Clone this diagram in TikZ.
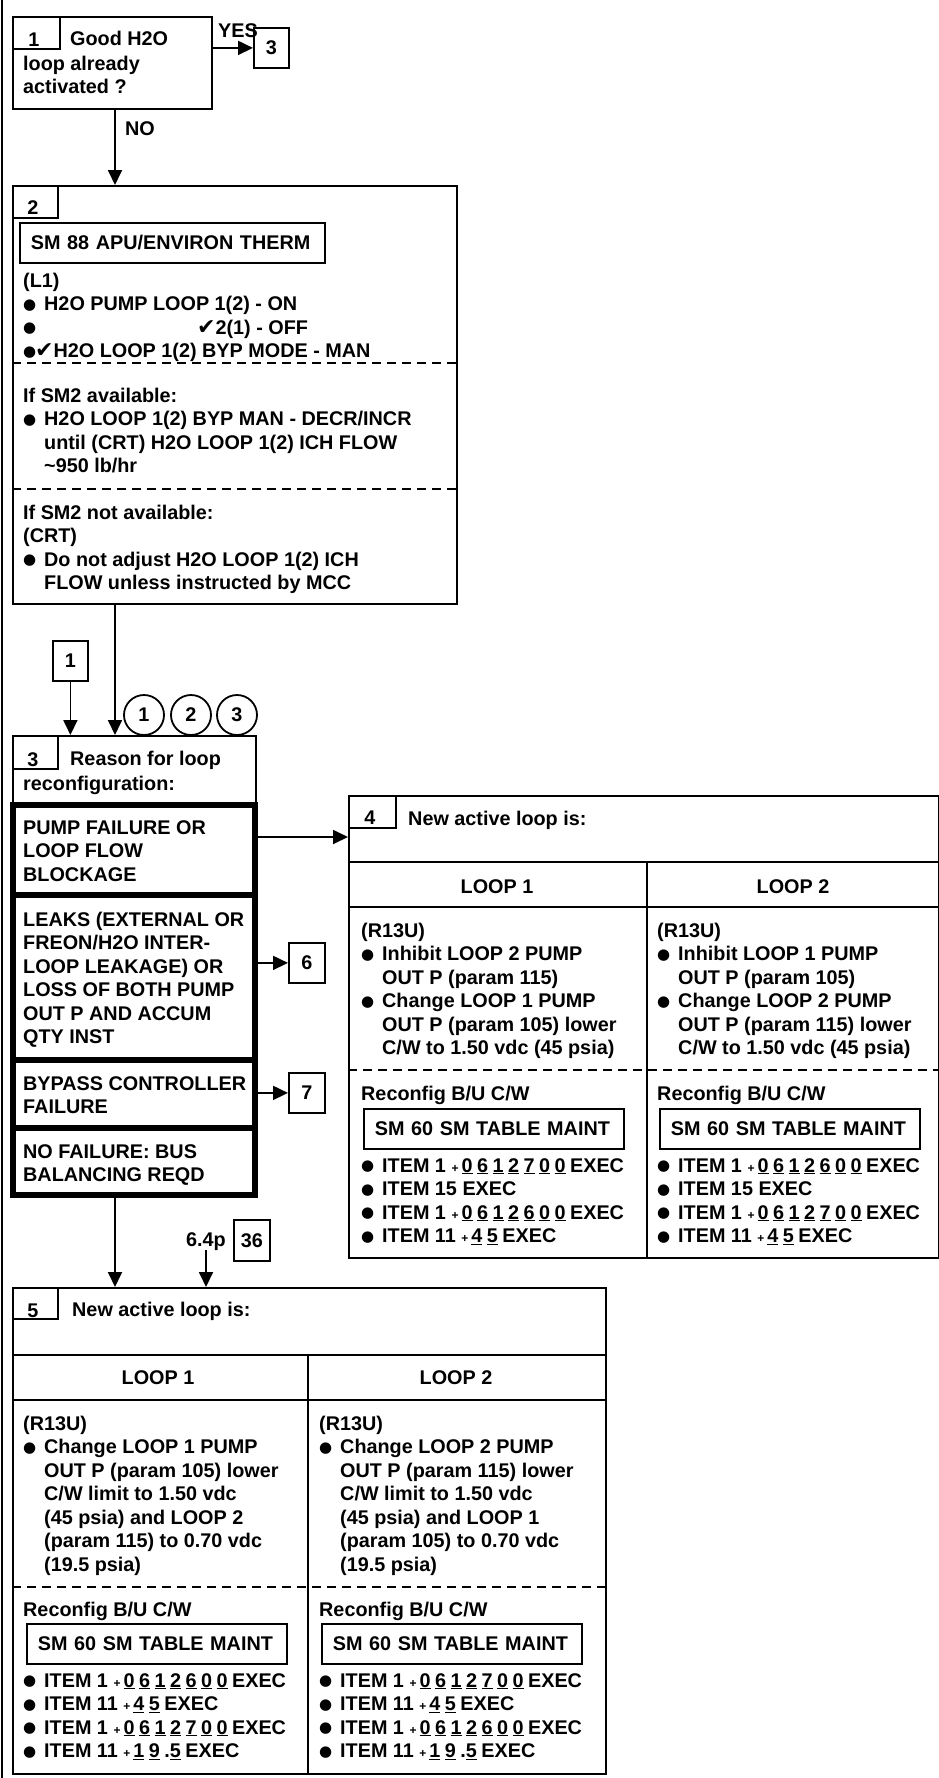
\documentclass[tikz,border=0pt]{standalone}
\usepackage{fontspec}
\setmainfont{Liberation Sans}
\newfontfamily\checkfont{DejaVu Sans}
\usetikzlibrary{arrows.meta}

\newcommand{\bodyfont}{\fontsize{19.8}{23.5}\selectfont\bfseries}
\newcommand{\bdot}{{\checkfont\fontsize{15}{15}\selectfont\raisebox{1.5pt}{●}}}
\newcommand{\bul}{\makebox[21pt][l]{\bdot}}
\newcommand{\ind}{\hspace*{21pt}}
\newcommand{\chk}{{\checkfont\fontsize{22}{22}\selectfont ✔}}
\newcommand{\pls}{{\fontsize{12}{12}\selectfont +}\hspace{3pt}}
\newcommand{\ud}[1]{\underline{#1}\hspace{4.5pt}}

\begin{document}
\begin{tikzpicture}[x=1pt, y=-1pt,
    every node/.style={font=\bodyfont},
    box/.style={draw, line width=1.8pt, inner sep=0pt, anchor=north west},
    smbox/.style={box, minimum height=40pt, inner xsep=11pt, align=left},
    refbox/.style={box, minimum width=36pt, minimum height=40pt},
    reason/.style={draw, line width=6pt, inner sep=0pt, anchor=north west, minimum width=242pt},
    circ/.style={draw, circle, line width=1.8pt, minimum size=40pt, inner sep=0pt},
    txt/.style={anchor=base west, inner sep=0pt, align=left},
    num/.style={anchor=base, inner sep=0pt},
    tline/.style={line width=1.8pt},
    sepline/.style={line width=1.8pt, dash pattern=on 9pt off 6pt},
    arr/.style={line width=1.8pt, -{Triangle[length=15pt, width=14pt]}}]
    \useasboundingbox (0,0) rectangle (939,1778);
    \draw[line width=2.5pt] (2,0) -- (2,1778);
    \coordinate (spine) at (115,0);

    \node[box, minimum width=199pt, minimum height=92pt] (q1) at (12,16) {};
    \node[box, minimum width=47pt, minimum height=32pt] (t1) at (12,16) {};
    \node[num] (t1n) at (34,46) {1};
    \node[txt] (q1a) at (70,45) {Good H2O};
    \node[txt] (q1b) at (23,93.5) {loop already\\activated ?};
    \node[refbox, minimum width=35pt] (r3) at (253,27) {3};
    \node[txt] (yes) at (218,37) {YES};
    \node[txt] (no) at (125,135) {NO};

    \node[box, minimum width=444pt, minimum height=418pt] (q2) at (12,185) {};
    \node[box, minimum width=45pt, minimum height=32pt] (t2) at (12,185) {};
    \node[num] (t2n) at (33,214) {2};
    \node[smbox, text width=283pt] (sm88) at (19,222) {SM 88 APU/ENVIRON THERM};
    \node[txt] (q2a) at (23,357.5) {(L1)\\\bul H2O PUMP LOOP 1(2) - ON\\\bul\hspace*{153pt}\chk 2(1) - OFF\\\makebox[12pt][l]{\bdot}\chk H2O LOOP 1(2) BYP MODE - MAN};
    \draw[sepline] (12,363) -- (456,363);
    \node[txt] (q2b) at (23,472.5) {If SM2 available:\\\bul H2O LOOP 1(2) BYP MAN - DECR/INCR\\\ind until (CRT) H2O LOOP 1(2) ICH FLOW\\\ind \textasciitilde950 lb/hr};
    \draw[sepline] (12,489) -- (456,489);
    \node[txt] (q2c) at (23,589.5) {If SM2 not available:\\(CRT)\\\bul Do not adjust H2O LOOP 1(2) ICH\\\ind FLOW unless instructed by MCC};

    \node[refbox, minimum width=35pt] (r1) at (52,640) {1};
    \node[circ] (c1) at (144,715) {1};
    \node[circ] (c2) at (191,715) {2};
    \node[circ] (c3) at (237,715) {3};

    \node[box, minimum width=243pt, minimum height=70pt] (q3) at (12,735) {};
    \node[box, minimum width=45pt, minimum height=33pt] (t3) at (12,735) {};
    \node[num] (t3n) at (33,766) {3};
    \node[txt] (q3a) at (70,765) {Reason for loop};
    \node[txt] (q3b) at (23,790) {reconfiguration:};

    \node[reason, minimum height=90pt] (ra) at (10,802) {};
    \node[reason, minimum height=165pt] (rb) at (10,892) {};
    \node[reason, minimum height=68pt] (rc) at (10,1057) {};
    \node[reason, minimum height=67pt] (rd) at (10,1125) {};
    \node[txt] (raa) at (23,881) {PUMP FAILURE OR\\LOOP FLOW\\BLOCKAGE};
    \node[txt] (rba) at (23,1043.5) {LEAKS (EXTERNAL OR\\FREON/H2O INTER-\\LOOP LEAKAGE) OR\\LOSS OF BOTH PUMP\\OUT P AND ACCUM\\QTY INST};
    \node[txt] (rca) at (23,1113.5) {BYPASS CONTROLLER\\FAILURE};
    \node[txt] (rda) at (23,1181.5) {NO FAILURE: BUS\\BALANCING REQD};
    \node[refbox] (r6) at (288,942) {6};
    \node[refbox] (r7) at (288,1072) {7};

    \node[box, minimum width=590pt, minimum height=462pt] (q4) at (348,795) {};
    \node[box, minimum width=47pt, minimum height=32pt] (t4) at (348,795) {};
    \node[num] (t4n) at (370,824) {4};
    \node[txt] (q4a) at (408,825) {New active loop is:};
    \draw[tline] (348,862) -- (938,862);
    \draw[tline] (348,907) -- (938,907);
    \draw[tline] (647,862) -- (647,1257);
    \draw[sepline] (348,1070) -- (938,1070);
    \node[num] (q4b) at (497,893) {LOOP 1};
    \node[num] (q4c) at (793,893) {LOOP 2};
    \node[txt] (q4d) at (361,1054.5) {(R13U)\\\bul Inhibit LOOP 2 PUMP\\\ind OUT P (param 115)\\\bul Change LOOP 1 PUMP\\\ind OUT P (param 105) lower\\\ind C/W to 1.50 vdc (45 psia)};
    \node[txt] (q4e) at (657,1054.5) {(R13U)\\\bul Inhibit LOOP 1 PUMP\\\ind OUT P (param 105)\\\bul Change LOOP 2 PUMP\\\ind OUT P (param 115) lower\\\ind C/W to 1.50 vdc (45 psia)};
    \node[txt] (q4f) at (361,1100) {Reconfig B/U C/W};
    \node[txt] (q4g) at (657,1100) {Reconfig B/U C/W};
    \node[smbox, text width=238pt] (q4h) at (363,1108) {SM 60 SM TABLE MAINT};
    \node[smbox, text width=238pt] (q4i) at (659,1108) {SM 60 SM TABLE MAINT};
    \node[txt] (q4j) at (361,1242.5) {\bul ITEM 1 \pls\ud0\ud6\ud1\ud2\ud7\ud0\ud0EXEC\\\bul ITEM 15 EXEC\\\bul ITEM 1 \pls\ud0\ud6\ud1\ud2\ud6\ud0\ud0EXEC\\\bul ITEM 11 \pls\ud4\ud5EXEC};
    \node[txt] (q4k) at (657,1242.5) {\bul ITEM 1 \pls\ud0\ud6\ud1\ud2\ud6\ud0\ud0EXEC\\\bul ITEM 15 EXEC\\\bul ITEM 1 \pls\ud0\ud6\ud1\ud2\ud7\ud0\ud0EXEC\\\bul ITEM 11 \pls\ud4\ud5EXEC};

    \node[txt] (pg) at (186,1246) {6.4p};
    \node[refbox, minimum height=41pt] (r36) at (233,1219) {36};

    \node[box, minimum width=593pt, minimum height=486pt] (q5) at (12,1287) {};
    \node[box, minimum width=45pt, minimum height=31pt] (t5) at (12,1287) {};
    \node[num] (t5n) at (33,1317) {5};
    \node[txt] (q5a) at (72,1316) {New active loop is:};
    \draw[tline] (12,1355) -- (605,1355);
    \draw[tline] (12,1400) -- (605,1400);
    \draw[tline] (308,1355) -- (308,1773);
    \draw[sepline] (12,1587) -- (605,1587);
    \node[num] (q5b) at (158,1384) {LOOP 1};
    \node[num] (q5c) at (456,1384) {LOOP 2};
    \node[txt] (q5d) at (23,1571) {(R13U)\\\bul Change LOOP 1 PUMP\\\ind OUT P (param 105) lower\\\ind C/W limit to 1.50 vdc\\\ind (45 psia) and LOOP 2\\\ind (param 115) to 0.70 vdc\\\ind (19.5 psia)};
    \node[txt] (q5e) at (319,1571) {(R13U)\\\bul Change LOOP 2 PUMP\\\ind OUT P (param 115) lower\\\ind C/W limit to 1.50 vdc\\\ind (45 psia) and LOOP 1\\\ind (param 105) to 0.70 vdc\\\ind (19.5 psia)};
    \node[txt] (q5f) at (23,1616) {Reconfig B/U C/W};
    \node[txt] (q5g) at (319,1616) {Reconfig B/U C/W};
    \node[smbox, text width=238pt] (q5h) at (26,1623) {SM 60 SM TABLE MAINT};
    \node[smbox, text width=238pt] (q5i) at (321,1623) {SM 60 SM TABLE MAINT};
    \node[txt] (q5j) at (23,1757.5) {\bul ITEM 1 \pls\ud0\ud6\ud1\ud2\ud6\ud0\ud0EXEC\\\bul ITEM 11 \pls\ud4\ud5EXEC\\\bul ITEM 1 \pls\ud0\ud6\ud1\ud2\ud7\ud0\ud0EXEC\\\bul ITEM 11 \pls\ud1\ud9.\ud5EXEC};
    \node[txt] (q5k) at (319,1757.5) {\bul ITEM 1 \pls\ud0\ud6\ud1\ud2\ud7\ud0\ud0EXEC\\\bul ITEM 11 \pls\ud4\ud5EXEC\\\bul ITEM 1 \pls\ud0\ud6\ud1\ud2\ud6\ud0\ud0EXEC\\\bul ITEM 11 \pls\ud1\ud9.\ud5EXEC};

    \draw[arr] (q1.east |- r3) -- (r3);
    \draw[arr] (q1.south -| spine) -- (q2.north -| spine);
    \draw[arr] (q2.south -| spine) -- (q3.north -| spine);
    \draw[arr] (r1) -- (r1 |- q3.north);
    \draw[arr] ([yshift=13pt]ra.east) -- ([yshift=13pt]ra.east -| q4.west);
    \draw[arr] (rb.east |- r6) -- (r6);
    \draw[arr] (rc.east |- r7) -- (r7);
    \draw[arr] (rd.south -| spine) -- (q5.north -| spine);
    \draw[arr] (pg.south) -- (pg.south |- q5.north);
\end{tikzpicture}
\end{document}
